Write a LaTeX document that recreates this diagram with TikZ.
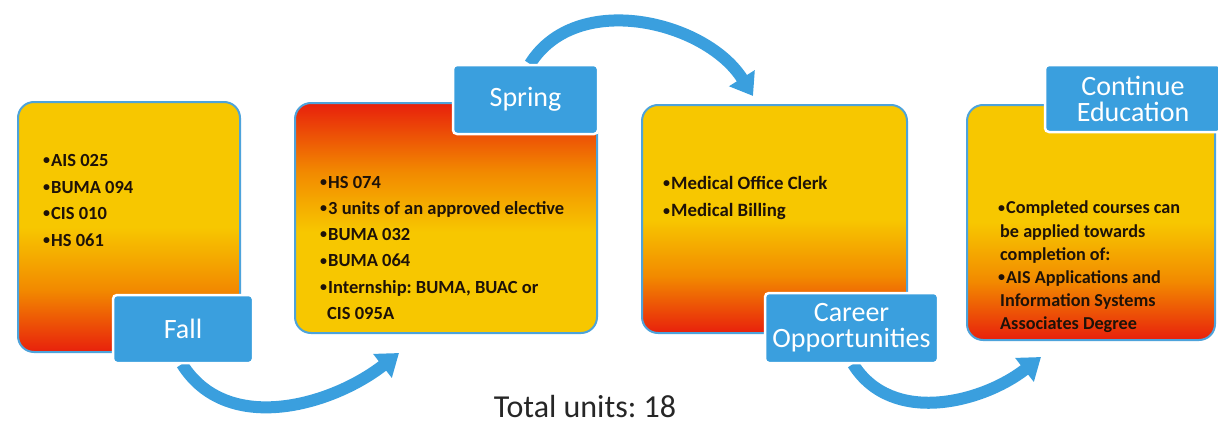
\documentclass[tikz,border=0pt]{standalone}
\usepackage{fontspec}
\setmainfont{Carlito}
\frenchspacing
\usetikzlibrary{arrows.meta}
\definecolor{cyel}{HTML}{F7C700}
\definecolor{corg}{HTML}{F28A00}
\definecolor{cred}{HTML}{E8200C}
\definecolor{cblue}{HTML}{3A9FDE}
\definecolor{cedge}{HTML}{4DA3DB}
\definecolor{ctxt}{HTML}{1E1208}
\newcommand\bul{\makebox[8pt][l]{\raisebox{0.1em}{\fontsize{14}{14}\selectfont •}}}
\pgfdeclareverticalshading{yor}{100bp}{color(0bp)=(cred); color(25bp)=(cred); color(37.5bp)=(corg); color(50bp)=(cyel); color(100bp)=(cyel)}
\pgfdeclareverticalshading{roy}{100bp}{color(0bp)=(cyel); color(47bp)=(cyel); color(60bp)=(corg); color(75bp)=(cred); color(100bp)=(cred)}
\tikzset{
  panel/.style={draw=cedge, line width=2pt, rounded corners=16pt},
  tag/.style={fill=cblue, draw=white, line width=2.5pt, rounded corners=4pt, text=white,
    font=\fontsize{28}{30}\selectfont, align=center, inner sep=0pt},
  body/.style={anchor=north west, inner sep=0pt, align=left, text=ctxt},
  flow/.style={draw=cblue, line width=12pt, -{Triangle[width=29pt,length=21pt]}},
}
\begin{document}
\begin{tikzpicture}[x=1pt,y=1pt]
\useasboundingbox (0,0) rectangle (1218,-423);
% arrows
\coordinate (a1s) at (182,-364);
\coordinate (a1e) at (399,-353);
\coordinate (a2s) at (530,-64);
\coordinate (a2e) at (753,-96);
\coordinate (a3s) at (853,-364);
\coordinate (a3e) at (1041,-357);
\draw[flow] (a1s) to[out=-58,in=218] (a1e);
\draw[flow] (a2s) to[out=58,in=122] (a2e);
\draw[flow] (a3s) to[out=-58,in=218] (a3e);
% panels
\path[panel, shading=yor] (18,-102) rectangle (240,-352);
\node (p1) at (129,-227) {};
\path[panel, shading=roy] (295,-103) rectangle (597,-333);
\node (p2) at (446,-218) {};
\path[panel, shading=yor] (642,-105) rectangle (907,-333);
\node (p3) at (774.5,-219) {};
\path[panel, shading=yor] (967,-105) rectangle (1215,-340);
\node (p4) at (1091,-222) {};
% texts
\node[body, font=\bfseries\fontsize{18.5}{26.7}\selectfont] (t1) at (43,-154)
  {\bul AIS 025\\ \bul BUMA 094\\ \bul CIS 010\\ \bul HS 061};
\node[body, font=\bfseries\fontsize{18.5}{26.2}\selectfont] (t2) at (320,-176)
  {\bul HS 074\\ \bul 3 units of an approved elective\\ \bul BUMA 032\\ \bul BUMA 064\\ \bul Internship: BUMA, BUAC or\\ \hspace{7pt}CIS 095A};
\node[body, font=\bfseries\fontsize{18.8}{27.5}\selectfont] (t3) at (663,-176)
  {\bul Medical Office Clerk\\ \bul Medical Billing};
\node[body, font=\bfseries\fontsize{18.2}{23.2}\selectfont] (t4) at (998,-201)
  {\bul Completed courses can\\ \hspace{2pt}be applied towards\\ \hspace{2pt}completion of:\\ \bul AIS Applications and\\ \hspace{2pt}Information Systems\\ \hspace{2pt}Associates Degree};
% tags
\node[tag, minimum width=140pt, minimum height=68pt] (fall) at (183,-329) {Fall};
\node[tag, minimum width=145pt, minimum height=69pt] (spring) at (525.5,-99.5) {Spring};
\node[tag, minimum width=173pt, minimum height=70pt] (career) at (851.5,-328) {Career\\[-4pt]Opportunities};
\node[tag, minimum width=176pt, minimum height=67pt] (cont) at (1133,-98.5) {Continue\\[-4pt]Education};
\node[text=black!85, font=\fontsize{32}{34}\selectfont, anchor=base] (total) at (585,-417) {Total units: 18};
\end{tikzpicture}
\end{document}
